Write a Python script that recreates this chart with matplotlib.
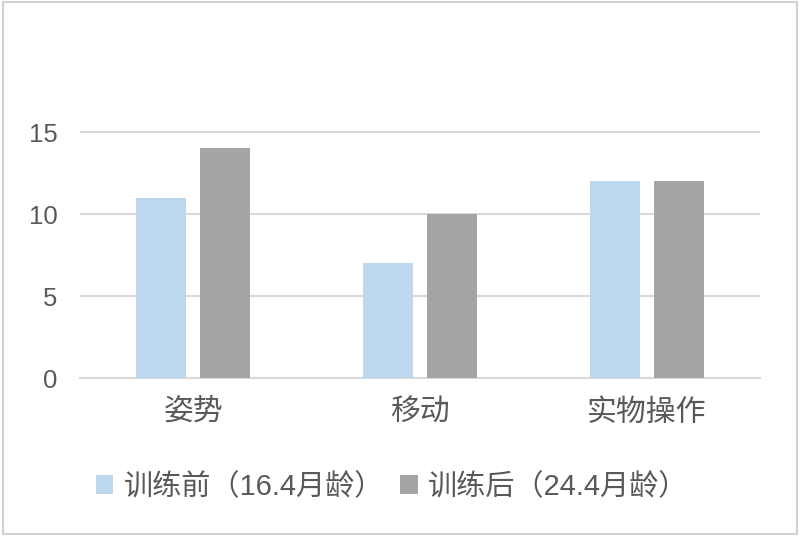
import matplotlib
matplotlib.use("Agg")
import matplotlib.pyplot as plt
import numpy as np
from matplotlib.patches import Rectangle

plt.rcParams['font.family'] = ['Liberation Sans', 'Noto Sans CJK SC', 'DejaVu Sans']

categories = ['姿势', '移动', '实物操作']
before = [11, 7, 12]
after = [14, 10, 12]
series_names = ['训练前（16.4月龄）', '训练后（24.4月龄）']
yticks = [0, 5, 10, 15]

fig = plt.figure(figsize=(8, 5.38), dpi=100)
ax = fig.add_axes([0.1, 1 - 378/538, 0.85, (378-132)/538 * 16/15])

x = np.arange(len(categories))
w = 0.22
ax.bar(x - 0.141, before, w, color='#BDD7EE', label=series_names[0], zorder=3)
ax.bar(x + 0.141, after, w, color='#A5A5A5', label=series_names[1], zorder=3)

ax.set_xlim(-0.5, 2.5)
ax.set_ylim(0, 16)
ax.set_yticks(yticks)
ax.yaxis.grid(True, color='#D9D9D9', linewidth=1.5, zorder=0)
for s in ['top', 'right', 'left']:
    ax.spines[s].set_visible(False)
ax.spines['bottom'].set_color('#D9D9D9')
ax.spines['bottom'].set_linewidth(1.5)
ax.tick_params(axis='both', length=0)
ax.tick_params(axis='y', labelsize=18.5, labelcolor='#595959', pad=16)
ax.tick_params(axis='x', labelsize=21.5, labelcolor='#595959', pad=15)
ax.set_xticks(x)
ax.set_xticklabels(categories)

leg = fig.legend(loc='center', bbox_to_anchor=(392/800, 1 - 487/538), ncol=2, frameon=False,
                 fontsize=21, handlelength=0.6, handleheight=0.6, handletextpad=0.35,
                 columnspacing=0.55, labelcolor='#595959')

fig.patches.append(Rectangle((0.004, 0.007), 0.992, 0.99, transform=fig.transFigure,
                             fill=False, edgecolor='#D0D0D0', linewidth=1.5))

fig.savefig('out.png', dpi=100)
